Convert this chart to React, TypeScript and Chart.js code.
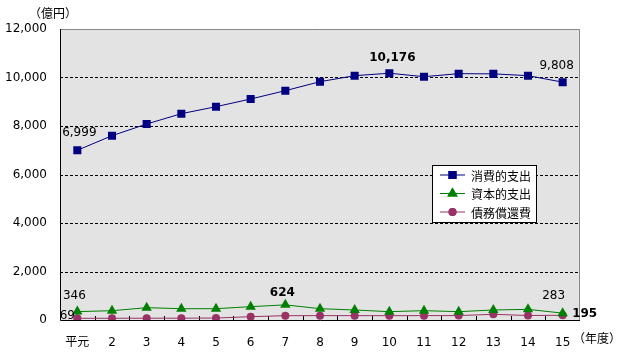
import React, { useEffect, useRef } from 'react';
import { Chart, registerables } from 'chart.js';
import { drawPoint } from 'chart.js/helpers';

Chart.register(...registerables);

const categories = ['平元', '2', '3', '4', '5', '6', '7', '8', '9', '10', '11', '12', '13', '14', '15'];
const consumption = [6999, 7600, 8082, 8508, 8797, 9113, 9457, 9827, 10075, 10176, 10034, 10158, 10150, 10075, 9808];
const capital = [346, 384, 508, 467, 467, 550, 624, 467, 412, 344, 385, 344, 412, 440, 283];
const debt = [69, 72, 74, 76, 80, 137, 178, 180, 180, 178, 180, 182, 235, 185, 195];
const seriesNames = ['消費的支出', '資本的支出', '債務償還費'];
const yTickValues = [0, 2000, 4000, 6000, 8000, 10000, 12000];
const unitY = '（億円）';
const unitX = '（年度）';

const FONT = '"DejaVu Sans", "Noto Sans CJK JP", sans-serif';
const CJK = '"Noto Sans CJK JP", sans-serif';
const colors = ['#000080', '#008000', '#993366'];
const pointStyles: any[] = ['rect', 'triangle', 'circle'];
const pointRadii = [5.7, 6, 4];

const fmt = (v: number) => v.toLocaleString('en-US');

// label annotations: dataset, index, offsets, bold
const labelSpecs = [
  { ds: 0, idx: 0, dx: 2, dy: -17, bold: false },
  { ds: 0, idx: 9, dx: 3, dy: -15, bold: true },
  { ds: 0, idx: 14, dx: -6, dy: -16, bold: false },
  { ds: 1, idx: 0, dx: -3, dy: -16, bold: false },
  { ds: 1, idx: 6, dx: -3, dy: -12, bold: true },
  { ds: 1, idx: 14, dx: -9, dy: -17, bold: false },
  { ds: 2, idx: 0, dx: -10, dy: -2, bold: false },
  { ds: 2, idx: 14, dx: 22, dy: -1, bold: true },
];

const decorPlugin = {
  id: 'decor',
  beforeDatasetsDraw(chart: any) {
    const { ctx, chartArea: a, scales } = chart;
    const y = scales.y;
    ctx.save();
    ctx.fillStyle = '#e3e3e3';
    ctx.fillRect(a.left, a.top, a.right - a.left, a.bottom - a.top);
    // dashed grid
    ctx.strokeStyle = '#000';
    ctx.lineWidth = 1;
    ctx.setLineDash([3, 2]);
    yTickValues.forEach((v) => {
      if (v === 0 || v === 12000) return;
      const py = Math.round(y.getPixelForValue(v)) + 0.5;
      ctx.beginPath();
      ctx.moveTo(a.left, py);
      ctx.lineTo(a.right, py);
      ctx.stroke();
    });
    ctx.setLineDash([]);
    // top/right gray border
    ctx.strokeStyle = '#888';
    ctx.beginPath();
    ctx.moveTo(a.left, a.top + 0.5);
    ctx.lineTo(a.right - 0.5, a.top + 0.5);
    ctx.lineTo(a.right - 0.5, a.bottom);
    ctx.stroke();
    // axes
    ctx.strokeStyle = '#000';
    ctx.beginPath();
    ctx.moveTo(a.left + 0.5, a.top);
    ctx.lineTo(a.left + 0.5, a.bottom + 0.5);
    ctx.lineTo(a.right, a.bottom + 0.5);
    ctx.stroke();
    // inside tick marks at category boundaries
    const n = categories.length;
    const w = (a.right - a.left) / n;
    ctx.beginPath();
    for (let i = 1; i < n; i++) {
      const px = Math.round(a.left + i * w) + 0.5;
      ctx.moveTo(px, a.bottom - 4);
      ctx.lineTo(px, a.bottom);
    }
    ctx.stroke();
    ctx.restore();
  },
  afterDatasetsDraw(chart: any) {
    const { ctx } = chart;
    ctx.save();
    ctx.fillStyle = '#000';
    ctx.textAlign = 'center';
    ctx.textBaseline = 'middle';
    labelSpecs.forEach((s) => {
      const el = chart.getDatasetMeta(s.ds).data[s.idx];
      const v = chart.data.datasets[s.ds].data[s.idx];
      ctx.font = `${s.bold ? 'bold ' : ''}12px ${FONT}`;
      ctx.fillText(fmt(v), el.x + s.dx, el.y + s.dy);
    });
    ctx.restore();
  },
  afterDraw(chart: any) {
    const { ctx, chartArea: a } = chart;
    ctx.save();
    // unit labels
    ctx.fillStyle = '#000';
    ctx.font = `12px ${CJK}`;
    ctx.textAlign = 'center';
    ctx.textBaseline = 'middle';
    ctx.fillText(unitY, 53, 13);
    ctx.fillText(unitX, 597, 338);
    // legend
    const lx = a.right - 148;
    const ly = 165;
    ctx.fillStyle = '#fff';
    ctx.fillRect(lx + 0.5, ly + 0.5, 104, 57);
    ctx.strokeStyle = '#000';
    ctx.lineWidth = 1;
    ctx.strokeRect(lx + 0.5, ly + 0.5, 104, 57);
    seriesNames.forEach((name, i) => {
      const ry = ly + 10 + i * 18.5;
      ctx.strokeStyle = colors[i];
      ctx.beginPath();
      ctx.moveTo(lx + 8, ry);
      ctx.lineTo(lx + 33, ry);
      ctx.stroke();
      ctx.fillStyle = colors[i];
      drawPoint(ctx, { pointStyle: pointStyles[i], radius: pointRadii[i], rotation: 0, borderWidth: 0 } as any, lx + 20.5, ry);
      ctx.fill();
      ctx.fillStyle = '#000';
      ctx.textAlign = 'left';
      ctx.font = `12px ${CJK}`;
      ctx.fillText(name, lx + 39, ry + 1);
    });
    ctx.restore();
  },
};

export default function App() {
  const ref = useRef<HTMLCanvasElement>(null);
  useEffect(() => {
    if (!ref.current) return;
    const chart = new Chart(ref.current, {
      type: 'line',
      data: {
        labels: categories,
        datasets: [consumption, capital, debt].map((d, i) => ({
          label: seriesNames[i],
          data: d,
          borderColor: colors[i],
          backgroundColor: colors[i],
          borderWidth: 1,
          pointStyle: pointStyles[i],
          pointRadius: pointRadii[i],
          pointBorderWidth: 0,
          pointBackgroundColor: colors[i],
          tension: 0,
        })),
      },
      options: {
        responsive: false,
        animation: false,
        devicePixelRatio: 1,
        layout: { padding: { top: 29, right: 42, left: 0, bottom: 0 } },
        plugins: { legend: { display: false }, tooltip: { enabled: false } },
        scales: {
          x: {
            offset: true,
            grid: { display: false, drawTicks: false },
            border: { display: false },
            ticks: { color: '#000', font: { family: FONT, size: 12 }, padding: 16, maxRotation: 0, autoSkip: false },
            afterFit: (s: any) => { s.height = 34; },
          },
          y: {
            min: 0,
            max: 12000,
            grid: { display: false, drawTicks: false },
            border: { display: false },
            afterBuildTicks: (s: any) => { s.ticks = yTickValues.map((v) => ({ value: v })); },
            ticks: { color: '#000', font: { family: FONT, size: 12 }, padding: 13, callback: (v: any) => fmt(Number(v)) },
            afterFit: (s: any) => { s.width = 60; },
          },
        },
      },
      plugins: [decorPlugin],
    });
    return () => chart.destroy();
  }, []);
  return (
    <div style={{ position: 'fixed', left: 0, top: 0, width: 622, height: 354, background: '#fff' }}>
      <canvas ref={ref} width={622} height={354} style={{ display: 'block' }} />
    </div>
  );
}
